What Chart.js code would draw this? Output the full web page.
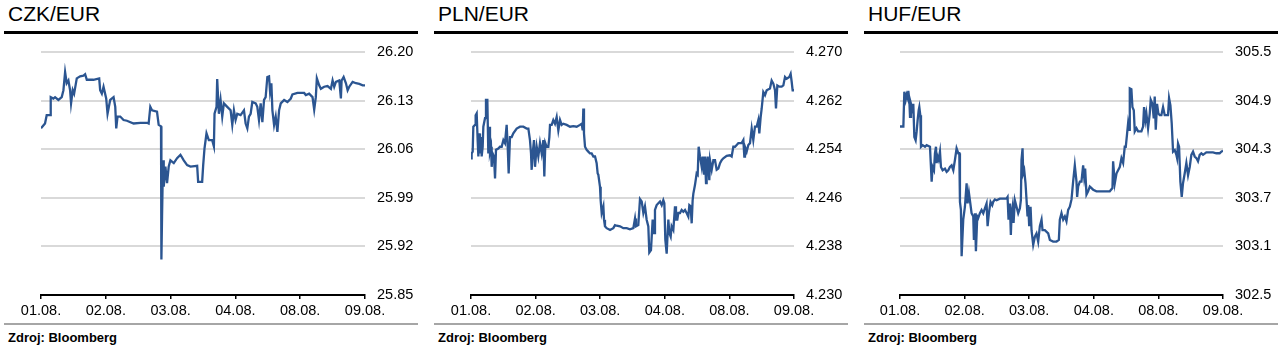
<!DOCTYPE html>
<html><head><meta charset="utf-8">
<script src="https://cdn.jsdelivr.net/npm/chart.js@4"></script>
<style>
body{margin:0;background:#fff;width:1283px;height:356px;overflow:hidden;font-family:"Liberation Sans",Arial,sans-serif;}
.panel{position:absolute;top:0;height:356px;}
.title{position:absolute;left:8px;top:3px;font-size:21px;line-height:21px;color:#000;white-space:nowrap;}
.bar{position:absolute;left:4px;top:31px;width:414px;height:3px;background:#000;}
.gray{position:absolute;left:4px;top:323px;width:414px;height:2px;background:#a6a6a6;}
.src{position:absolute;left:8px;top:331px;font-size:13px;line-height:13px;font-weight:bold;color:#000;white-space:nowrap;}
canvas{position:absolute;left:0;top:0;}
</style></head>
<body>
<div class="panel" style="left:0;width:425px"><div class="title">CZK/EUR</div><div class="bar"></div><canvas id="c1" width="425" height="320"></canvas><div class="gray"></div><div class="src">Zdroj: Bloomberg</div></div>
<div class="panel" style="left:430px;width:425px"><div class="title">PLN/EUR</div><div class="bar"></div><canvas id="c2" width="425" height="320"></canvas><div class="gray"></div><div class="src">Zdroj: Bloomberg</div></div>
<div class="panel" style="left:860px;width:423px"><div class="title">HUF/EUR</div><div class="bar"></div><canvas id="c3" width="423" height="320"></canvas><div class="gray"></div><div class="src">Zdroj: Bloomberg</div></div>
<script>
const dayLabels = ["01.08.","02.08.","03.08.","04.08.","08.08.","09.08."];
const dayTicks = [0,1,2,3,4,5];

const czkTicks = [25.85,25.92,25.99,26.06,26.13,26.20];
const czkT = [0,0.062,0.088,0.139,0.150,0.191,0.217,0.268,0.320,0.346,
0.372,0.397,0.423,0.449,0.464,0.490,0.511,0.552,0.604,0.655,
0.681,0.707,0.810,0.898,0.913,0.939,0.965,1.006,1.027,1.068,
1.120,1.146,1.161,1.181,1.223,1.274,1.326,1.429,1.533,1.636,
1.661,1.687,1.713,1.790,1.816,1.852,1.858,1.868,1.883,1.894,
1.920,1.945,1.971,1.997,2.049,2.100,2.152,2.203,2.255,2.307,
2.410,2.425,2.487,2.503,2.523,2.554,2.590,2.642,2.668,2.678,
2.709,2.719,2.745,2.771,2.797,2.822,2.874,2.926,2.952,2.977,
3.003,3.029,3.080,3.132,3.158,3.184,3.209,3.235,3.261,3.313,
3.338,3.364,3.390,3.416,3.442,3.467,3.493,3.519,3.535,3.555,
3.571,3.597,3.622,3.648,3.674,3.700,3.752,3.803,3.855,3.880,
3.958,4.061,4.087,4.138,4.190,4.216,4.241,4.257,4.293,4.319,
4.370,4.422,4.474,4.500,4.525,4.551,4.603,4.628,4.639,4.670,
4.706,4.732,4.757,4.809,4.861,4.912,4.964,5.0];
const czkV = [26.090,26.097,26.109,26.109,26.135,26.133,26.135,26.131,26.135,26.145,
26.171,26.155,26.159,26.145,26.126,26.145,26.140,26.162,26.165,26.166,
26.168,26.160,26.160,26.162,26.145,26.140,26.150,26.133,26.111,26.131,
26.135,26.121,26.090,26.107,26.107,26.102,26.101,26.097,26.098,26.098,
26.097,26.121,26.116,26.114,26.095,26.093,25.901,25.963,26.044,26.006,
26.035,26.011,26.035,26.044,26.040,26.047,26.052,26.044,26.037,26.035,
26.036,26.013,26.013,26.037,26.061,26.083,26.073,26.073,26.064,26.111,
26.121,26.161,26.111,26.131,26.107,26.126,26.121,26.116,26.095,26.116,
26.102,26.111,26.109,26.116,26.097,26.090,26.107,26.111,26.128,26.126,
26.121,26.102,26.126,26.099,26.131,26.135,26.164,26.165,26.143,26.155,
26.116,26.095,26.107,26.085,26.116,26.126,26.131,26.128,26.133,26.139,
26.141,26.141,26.138,26.140,26.135,26.117,26.135,26.162,26.152,26.147,
26.150,26.151,26.147,26.159,26.150,26.157,26.159,26.133,26.159,26.164,
26.155,26.145,26.150,26.157,26.155,26.154,26.152,26.152];

const plnTicks = [4.230,4.238,4.246,4.254,4.262,4.270];
const plnT = [0,0.010,0.026,0.036,0.062,0.072,0.088,0.103,0.114,0.129,
0.139,0.155,0.165,0.181,0.191,0.217,0.232,0.253,0.268,0.284,
0.294,0.310,0.320,0.335,0.356,0.372,0.387,0.423,0.449,0.475,
0.501,0.526,0.552,0.568,0.583,0.604,0.630,0.655,0.707,0.759,
0.810,0.862,0.888,0.913,0.929,0.939,0.955,0.975,0.991,1.017,
1.042,1.068,1.094,1.120,1.135,1.151,1.171,1.197,1.213,1.223,
1.249,1.274,1.300,1.326,1.352,1.378,1.404,1.429,1.481,1.533,
1.584,1.636,1.687,1.713,1.729,1.739,1.749,1.765,1.790,1.816,
1.842,1.868,1.894,1.920,1.945,1.961,1.971,1.997,2.007,2.023,
2.049,2.059,2.074,2.100,2.152,2.203,2.229,2.255,2.307,2.358,
2.410,2.461,2.513,2.539,2.554,2.590,2.616,2.642,2.668,2.693,
2.719,2.745,2.760,2.786,2.812,2.833,2.848,2.874,2.900,2.926,
2.952,2.977,2.993,3.008,3.029,3.039,3.055,3.070,3.091,3.106,
3.132,3.158,3.173,3.194,3.209,3.235,3.261,3.287,3.313,3.338,
3.364,3.380,3.400,3.416,3.431,3.442,3.467,3.493,3.509,3.524,
3.545,3.571,3.586,3.607,3.622,3.638,3.648,3.664,3.689,3.700,
3.726,3.752,3.777,3.803,3.829,3.855,3.880,3.906,3.958,4.009,
4.035,4.061,4.087,4.113,4.138,4.190,4.216,4.231,4.241,4.267,
4.293,4.319,4.345,4.370,4.396,4.422,4.448,4.463,4.484,4.500,
4.525,4.551,4.577,4.628,4.654,4.680,4.706,4.721,4.742,4.773,
4.809,4.835,4.861,4.886,4.928,4.948,4.964,4.979,5.0];
const plnV = [4.2525,4.2533,4.2536,4.2577,4.2580,4.2596,4.2599,4.2555,4.2528,4.2566,
4.2533,4.2560,4.2528,4.2544,4.2577,4.2591,4.2621,4.2621,4.2533,4.2577,
4.2536,4.2544,4.2511,4.2533,4.2528,4.2492,4.2539,4.2541,4.2544,4.2544,
4.2555,4.2550,4.2580,4.2544,4.2500,4.2560,4.2560,4.2566,4.2574,4.2577,
4.2577,4.2574,4.2574,4.2555,4.2533,4.2506,4.2533,4.2555,4.2511,4.2544,
4.2528,4.2550,4.2533,4.2555,4.2495,4.2550,4.2544,4.2544,4.2560,4.2580,
4.2580,4.2588,4.2582,4.2593,4.2571,4.2588,4.2580,4.2582,4.2580,4.2577,
4.2578,4.2577,4.2580,4.2582,4.2571,4.2607,4.2566,4.2544,4.2539,4.2536,
4.2533,4.2533,4.2528,4.2528,4.2517,4.2500,4.2498,4.2478,4.2456,4.2435,
4.2446,4.2424,4.2413,4.2410,4.2407,4.2410,4.2415,4.2414,4.2413,4.2410,
4.2410,4.2408,4.2410,4.2426,4.2413,4.2415,4.2458,4.2454,4.2435,4.2446,
4.2424,4.2413,4.2370,4.2374,4.2424,4.2402,4.2440,4.2448,4.2451,4.2454,
4.2448,4.2456,4.2451,4.2391,4.2368,4.2391,4.2424,4.2402,4.2396,4.2413,
4.2407,4.2446,4.2424,4.2424,4.2435,4.2435,4.2440,4.2437,4.2440,4.2435,
4.2429,4.2448,4.2446,4.2418,4.2456,4.2467,4.2481,4.2500,4.2498,4.2544,
4.2528,4.2511,4.2528,4.2500,4.2528,4.2484,4.2511,4.2528,4.2489,4.2522,
4.2506,4.2522,4.2522,4.2506,4.2508,4.2517,4.2522,4.2525,4.2529,4.2530,
4.2528,4.2544,4.2544,4.2547,4.2550,4.2550,4.2555,4.2528,4.2544,4.2536,
4.2547,4.2550,4.2574,4.2555,4.2577,4.2577,4.2588,4.2566,4.2593,4.2607,
4.2634,4.2629,4.2637,4.2640,4.2653,4.2648,4.2637,4.2607,4.2645,4.2643,
4.2643,4.2645,4.2659,4.2656,4.2659,4.2664,4.2651,4.2637,4.2637];

const hufTicks = [302.5,303.1,303.7,304.3,304.9,305.5];
const hufT = [0,0.052,0.067,0.088,0.103,0.119,0.129,0.144,0.155,0.170,
0.196,0.206,0.222,0.242,0.258,0.273,0.289,0.299,0.314,0.325,
0.351,0.387,0.412,0.464,0.490,0.505,0.526,0.541,0.557,0.567,
0.582,0.598,0.619,0.634,0.660,0.696,0.722,0.747,0.773,0.799,
0.825,0.851,0.876,0.902,0.918,0.928,0.943,0.954,0.979,1.005,
1.031,1.046,1.067,1.082,1.108,1.134,1.144,1.160,1.175,1.196,
1.211,1.237,1.263,1.289,1.314,1.340,1.356,1.376,1.402,1.428,
1.443,1.469,1.495,1.546,1.598,1.649,1.665,1.680,1.701,1.716,
1.727,1.742,1.758,1.778,1.804,1.830,1.856,1.871,1.881,1.897,
1.907,1.923,1.943,1.959,1.974,1.985,2.000,2.021,2.036,2.062,
2.088,2.113,2.139,2.165,2.191,2.206,2.242,2.294,2.320,2.371,
2.423,2.459,2.474,2.500,2.526,2.552,2.577,2.603,2.629,2.655,
2.680,2.706,2.732,2.742,2.758,2.784,2.809,2.835,2.851,2.866,
2.887,2.912,2.938,2.990,3.041,3.144,3.247,3.289,3.299,3.325,
3.351,3.376,3.402,3.428,3.454,3.479,3.495,3.515,3.531,3.546,
3.557,3.582,3.598,3.619,3.634,3.660,3.686,3.737,3.763,3.778,
3.799,3.814,3.840,3.866,3.881,3.907,3.928,3.943,3.959,3.979,
4.000,4.021,4.046,4.072,4.098,4.124,4.149,4.165,4.186,4.206,
4.227,4.253,4.278,4.289,4.304,4.320,4.340,4.361,4.381,4.407,
4.433,4.459,4.485,4.510,4.536,4.562,4.588,4.613,4.639,4.665,
4.691,4.742,4.794,4.845,4.897,4.948,4.974,5.0];
const hufV = [304.58,304.58,305.01,304.91,304.97,304.93,305.02,304.91,304.70,304.86,
304.78,304.86,304.45,304.41,304.52,304.66,304.78,304.82,304.72,304.33,
304.35,304.33,304.35,304.33,303.90,304.08,304.04,304.25,304.33,304.13,
304.21,304.17,304.27,304.08,304.04,304.06,304.02,304.04,304.08,304.10,
304.04,304.17,304.31,304.25,304.25,303.65,303.55,302.98,303.43,303.59,
303.88,303.63,303.76,303.67,303.51,303.47,303.18,303.51,303.04,303.47,
303.45,303.51,303.55,303.51,303.57,303.63,303.35,303.51,303.65,303.61,
303.65,303.68,303.67,303.69,303.69,303.69,303.71,303.43,303.63,303.24,
303.51,303.59,303.39,303.67,303.59,303.51,303.57,303.67,304.17,304.31,
304.00,304.04,303.88,303.67,303.47,303.61,303.35,303.59,303.30,303.12,
303.22,303.26,303.16,303.35,303.43,303.30,303.30,303.26,303.18,303.16,
303.16,303.18,303.43,303.51,303.43,303.47,303.41,303.55,303.59,303.68,
303.90,304.10,303.90,303.71,303.84,303.90,303.90,304.10,303.96,304.06,
303.74,303.78,303.84,303.80,303.78,303.78,303.78,303.82,304.15,303.88,
304.00,304.04,304.08,304.19,304.13,304.33,304.33,304.49,304.62,304.54,
305.05,305.04,304.82,304.78,304.52,304.56,304.52,304.52,304.58,304.82,
304.66,304.74,304.56,304.74,304.91,304.86,304.68,304.95,304.54,304.86,
304.74,304.72,304.72,304.82,304.72,304.72,304.72,304.93,304.84,304.62,
304.27,304.29,304.23,304.19,304.37,304.33,303.90,303.71,303.88,304.00,
304.13,303.98,304.08,304.23,304.27,304.21,304.19,304.15,304.23,304.25,
304.23,304.26,304.26,304.26,304.25,304.25,304.27,304.28];

const FONT = '"Liberation Sans", Arial, sans-serif';
const LINE = '#2b5591';

function makeChart(id, t, v, ticks, dec, plotLeft, plotRight, width){
  new Chart(document.getElementById(id), {
    type: 'line',
    data: { datasets: [{
      data: t.map((x,i)=>({x:x, y:v[i]})),
      borderColor: LINE, borderWidth: 2.3, pointRadius: 0, tension: 0, fill: false
    }]},
    options: {
      responsive: false, animation: false,
      layout: { padding: { left: plotLeft, top: 52, right: 0, bottom: 0 } },
      plugins: { legend: {display:false}, tooltip: {enabled:false} },
      scales: {
        x: {
          type: 'linear', min: 0, max: 5,
          afterBuildTicks: s => { s.ticks = dayTicks.map(d => ({value:d})); },
          afterFit: s => { s.height = 25; },
          ticks: { callback: (val, idx) => dayLabels[idx], color:'#000', font:{size:14.5, family:FONT}, padding:3, maxRotation:0, autoSkip:false },
          grid: { drawOnChartArea:false, drawTicks:true, tickLength:4, color:'#000', lineWidth:1.5 },
          border: { display:true, color:'#000', width:2 }
        },
        y: {
          position: 'right', min: ticks[0], max: ticks[ticks.length-1],
          afterBuildTicks: s => { s.ticks = ticks.map(d => ({value:d})); },
          afterFit: s => { s.width = width - plotRight; },
          ticks: { callback: val => Number(val).toFixed(dec), color:'#000', font:{size:14.5, family:FONT}, padding:12 },
          grid: { color:'#d9d9d9', lineWidth:2, drawTicks:false },
          border: { display:false }
        }
      }
    }
  });
}
makeChart('c1', czkT, czkV, czkTicks, 2, 41, 365, 425);
makeChart('c2', plnT, plnV, plnTicks, 3, 41, 364, 425);
makeChart('c3', hufT, hufV, hufTicks, 1, 40, 363, 423);
</script>
</body></html>
